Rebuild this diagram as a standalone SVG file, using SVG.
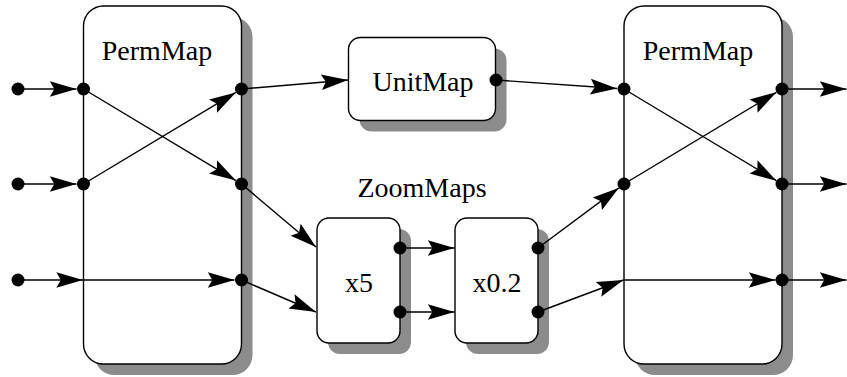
<svg xmlns="http://www.w3.org/2000/svg" width="847" height="377" viewBox="0 0 847 377">
<defs>
<marker id="ah" markerUnits="userSpaceOnUse" markerWidth="30" markerHeight="20" viewBox="-25 -8 27 16" refX="0" refY="0" orient="auto">
<path d="M0,0 L-24,-7 L-20,0 L-24,7 Z" fill="#000"/>
</marker>
</defs>
<style>
.box{fill:#fff;stroke:#000;stroke-width:1.4}
.sh{fill:#8c8c8c}
.ar{stroke:#000;stroke-width:1.4;fill:none;marker-end:url(#ah)}
.dot{fill:#000}
</style>
<g id="permmap-left">
<rect class="sh" x="94.5" y="17" width="158" height="358" rx="20"/>
<rect class="box" x="83.5" y="6" width="158" height="358" rx="20"/>
<text x="157" y="60" font-size="28" font-family="'Liberation Serif'" text-anchor="middle">PermMap</text>
</g>
<g id="unitmap">
<rect class="sh" x="359.5" y="48.5" width="147" height="83" rx="12"/>
<rect class="box" x="348.5" y="37.5" width="147" height="83" rx="12"/>
<text x="423" y="91" font-size="28" font-family="'Liberation Serif'" text-anchor="middle">UnitMap</text>
</g>
<g id="zoommaps-label">
<text x="422" y="197" font-size="28" font-family="'Liberation Serif'" text-anchor="middle">ZoomMaps</text>
</g>
<g id="x5">
<rect class="sh" x="328" y="229" width="83" height="125" rx="12"/>
<rect class="box" x="317" y="218" width="83" height="125" rx="12"/>
<text x="359" y="292" font-size="28" font-family="'Liberation Serif'" text-anchor="middle">x5</text>
</g>
<g id="x02">
<rect class="sh" x="466" y="229" width="83" height="125" rx="12"/>
<rect class="box" x="455" y="218" width="83" height="125" rx="12"/>
<text x="497" y="292" font-size="28" font-family="'Liberation Serif'" text-anchor="middle">x0.2</text>
</g>
<g id="permmap-right">
<rect class="sh" x="635" y="17" width="158" height="358" rx="20"/>
<rect class="box" x="624" y="6" width="158" height="358" rx="20"/>
<text x="698" y="60" font-size="28" font-family="'Liberation Serif'" text-anchor="middle">PermMap</text>
</g>
<g id="connectors">
<line class="ar" x1="18" y1="89" x2="76.5" y2="89"/>
<line class="ar" x1="18" y1="184" x2="76.5" y2="184"/>
<line class="ar" x1="18" y1="280" x2="83" y2="280"/>
<line class="ar" x1="83.5" y1="89" x2="235.9" y2="180.6"/>
<line class="ar" x1="83.5" y1="184" x2="235.9" y2="92.4"/>
<line class="ar" x1="83.5" y1="280" x2="234.5" y2="280"/>
<line class="ar" x1="241.5" y1="89" x2="348" y2="80"/>
<line class="ar" x1="496" y1="80" x2="617" y2="88.5"/>
<line class="ar" x1="241.5" y1="184" x2="316" y2="247"/>
<line class="ar" x1="241.5" y1="280" x2="316" y2="312"/>
<line class="ar" x1="400" y1="248" x2="454.5" y2="248"/>
<line class="ar" x1="400" y1="312" x2="454.5" y2="312"/>
<line class="ar" x1="538" y1="248" x2="618.8" y2="187.9"/>
<line class="ar" x1="538" y1="312" x2="623.5" y2="280"/>
<line class="ar" x1="624" y1="89" x2="776.4" y2="180.7"/>
<line class="ar" x1="624" y1="184" x2="776.4" y2="92.3"/>
<line class="ar" x1="624" y1="280" x2="775.5" y2="280"/>
<line class="ar" x1="782" y1="89" x2="846.5" y2="89"/>
<line class="ar" x1="782" y1="184" x2="846.5" y2="184"/>
<line class="ar" x1="782" y1="280" x2="846.5" y2="280"/>
<circle class="dot" cx="18" cy="89" r="6.5"/>
<circle class="dot" cx="18" cy="184" r="6.5"/>
<circle class="dot" cx="18" cy="280" r="6.5"/>
<circle class="dot" cx="83.5" cy="89" r="6.5"/>
<circle class="dot" cx="83.5" cy="184" r="6.5"/>
<circle class="dot" cx="241.5" cy="89" r="6.5"/>
<circle class="dot" cx="241.5" cy="184" r="6.5"/>
<circle class="dot" cx="241.5" cy="280" r="6.5"/>
<circle class="dot" cx="496" cy="80" r="6.5"/>
<circle class="dot" cx="400" cy="248" r="6.5"/>
<circle class="dot" cx="400" cy="312" r="6.5"/>
<circle class="dot" cx="538" cy="248" r="6.5"/>
<circle class="dot" cx="538" cy="312" r="6.5"/>
<circle class="dot" cx="624" cy="89" r="6.5"/>
<circle class="dot" cx="624" cy="184" r="6.5"/>
<circle class="dot" cx="782" cy="89" r="6.5"/>
<circle class="dot" cx="782" cy="184" r="6.5"/>
<circle class="dot" cx="782" cy="280" r="6.5"/>
</g>
</svg>
